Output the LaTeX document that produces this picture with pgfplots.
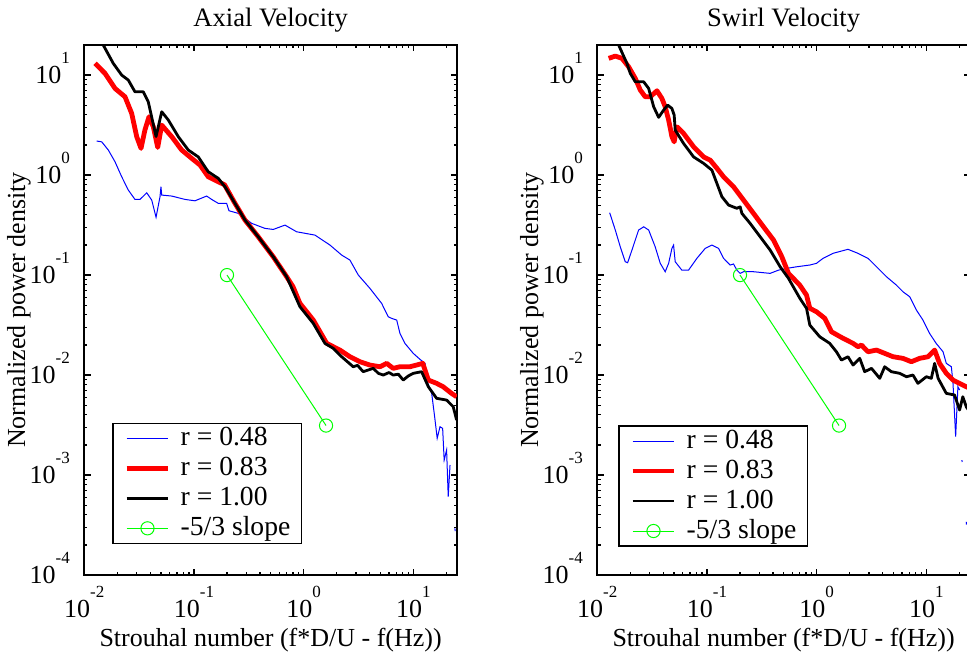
\documentclass[border=0pt]{standalone}
\usepackage{fontspec}
\setmainfont{Liberation Serif}
\usepackage{pgfplots}
\pgfplotsset{compat=1.18}
\newcommand{\tl}[1]{10\smash{\raisebox{10pt}{\fontsize{8.5}{9}\selectfont #1}}}
\tikzset{
 sblue/.style={color=blue, line width=0.5pt},
 sred/.style={color=red, line width=2.4pt, line join=round},
 sblack/.style={color=black, line width=1.4pt, line join=round},
 sgreen/.style={color=green, line width=0.5pt, mark=o, mark size=3.3pt, mark options={line width=0.5pt, solid}},
}
\pgfplotsset{
 every axis/.append style={
  xmode=log, ymode=log, scale only axis, width=186.35pt, height=265pt,
  xmin=0.01, xmax=25, ymin=1e-4, ymax=20,
  xtick={0.01,0.1,1,10}, xticklabels={\tl{-2},\tl{-1},\tl{0},\tl{1}},
  ytick={1e-4,1e-3,1e-2,1e-1,1,10}, yticklabels={\tl{-4},\tl{-3},\tl{-2},\tl{-1},\tl{0},\tl{1}},
  minor xtick={0.02,0.03,0.04,0.05,0.06,0.07,0.08,0.09,0.2,0.3,0.4,0.5,0.6,0.7,0.8,0.9,2,3,4,5,6,7,8,9,20},
  minor ytick={2e-4,3e-4,4e-4,5e-4,6e-4,7e-4,8e-4,9e-4,2e-3,3e-3,4e-3,5e-3,6e-3,7e-3,8e-3,9e-3,0.02,0.03,0.04,0.05,0.06,0.07,0.08,0.09,0.2,0.3,0.4,0.5,0.6,0.7,0.8,0.9,2,3,4,5,6,7,8,9},
  tick align=inside, major tick length=3.2pt, minor tick length=1.6pt,
  tick style={black, line width=0.6pt},
  axis line style={line width=0.9pt},
  tick label style={font=\fontsize{13}{15}\selectfont},
  xticklabel style={anchor=north, inner sep=0pt, yshift=-12.5pt},
  yticklabel style={anchor=east, inner sep=0pt, xshift=-7pt},
  label style={font=\fontsize{13}{15}\selectfont},
  xlabel={Strouhal number (f*D/U - f(Hz))},
  xlabel style={at={(axis description cs:0.5,0)}, anchor=base, yshift=-35.5pt},
  ylabel={Normalized power density},
  ylabel style={at={(axis description cs:-0.159,0.5)}, anchor=base},
  every axis title shift=0pt,
  title style={font=\fontsize{13.3}{15}\selectfont, at={(axis description cs:0.5,1)}, anchor=base, yshift=9.2pt},
  legend cell align=left,
  legend style={anchor=south west, draw=black, line width=0.8pt, fill=white,
    inner xsep=5.5pt, inner ysep=0pt, outer sep=0pt, row sep=0pt, font=\fontsize{13.8}{15}\selectfont,
    nodes={inner xsep=0pt, inner ysep=2pt, text height=9pt, text depth=2pt},
    /tikz/every odd column/.append style={column sep=5pt}},
  legend image code/.code={\draw[mark repeat=2,mark phase=2,#1] plot coordinates {(0pt,0pt) (10.4pt,0pt) (20.8pt,0pt)};},
  unbounded coords=jump,
 },
}
\begin{document}
\begin{tikzpicture}
% ---------------- Left panel ----------------
\begin{axis}[at={(42.15pt,39.5pt)}, anchor=south west, title={Axial Velocity},
  legend style={at={(0.0778,0.0598)}}]
\addplot[sblue] coordinates {(0.01297,2.19) (0.01442,2.15) (0.01656,1.78) (0.01905,1.36) (0.02193,0.962) (0.0252,0.708) (0.02897,0.571) (0.0322,0.571) (0.0371,0.665) (0.0412,0.562) (0.0451,0.378) (0.0490,0.607) (0.0500,0.764) (0.0508,0.631) (0.0627,0.617) (0.0828,0.571) (0.1021,0.553) (0.1305,0.617) (0.1449,0.571) (0.1667,0.521) (0.1986,0.521) (0.2084,0.440) (0.2535,0.414) (0.3357,0.329) (0.4436,0.293) (0.528,0.286) (0.676,0.316) (0.863,0.271) (1.268,0.251) (1.738,0.1995) (2.22,0.1585) (2.64,0.1413) (3.15,0.100) (4.02,0.0736) (5.14,0.0521) (5.90,0.0383) (6.34,0.0369) (7.05,0.0355) (7.55,0.0261) (8.39,0.0207) (9.98,0.01648) (11.5,0.01435) (12.8,0.01309) (13.2,0.00891) (14.7,0.00656) (15.7,0.00369) (16.5,0.00233) (17.5,0.00304) (18.5,0.00293) (19.1,0.00141) (20.1,0.00178) (20.8,0.000607) (21.6,0.00126) (22,nan) (23.9,0.000293) (24.1,0.000275)};
\addlegendentry{r = 0.48}
\addplot[sred] coordinates {(0.01254,13.1) (0.01545,10.4) (0.01905,7.36) (0.0235,6.07) (0.02704,4.14) (0.03006,2.42) (0.0329,1.85) (0.0357,2.82) (0.0389,3.83) (0.0426,3.04) (0.0467,1.89) (0.0508,3.16) (0.0627,2.42) (0.0773,1.78) (0.0953,1.47) (0.1135,1.26) (0.1349,0.962) (0.1667,0.857) (0.19,0.80) (0.2366,0.521) (0.2917,0.355) (0.3855,0.2416) (0.528,0.1525) (0.700,0.0962) (0.80,0.0764) (0.925,0.0521) (1.223,0.0355) (1.622,0.02075) (2.14,0.01778) (2.64,0.01525) (3.26,0.01359) (4.02,0.01259) (4.96,0.01211) (5.71,0.01309) (6.56,0.01167) (7.55,0.01211) (9.31,0.01211) (10.7,0.01259) (12.2,0.01309) (13.7,0.00891) (16.3,0.00826) (18.7,0.00764) (22.3,0.00656) (24.8,0.00607)};
\addlegendentry{r = 0.83}
\addplot[sblack] coordinates {(0.0128,24.5) (0.0149,19.95) (0.01837,13.1) (0.02193,10.0) (0.0252,8.91) (0.02897,6.81) (0.0345,6.81) (0.0383,5.41) (0.0451,2.43) (0.0508,4.30) (0.0584,3.55) (0.0720,2.42) (0.0888,1.78) (0.1094,1.52) (0.1349,1.08) (0.1667,0.927) (0.1918,0.764) (0.2366,0.521) (0.2917,0.355) (0.3855,0.2416) (0.528,0.1525) (0.700,0.0962) (0.925,0.0482) (1.223,0.0329) (1.563,0.02075) (1.862,0.01849) (2.22,0.01525) (2.83,0.01211) (3.1,0.0125) (3.49,0.0108) (4.31,0.01167) (4.8,0.0104) (5.32,0.0100) (6.0,0.0106) (6.56,0.0100) (7.3,0.0102) (8.09,0.00891) (9.0,0.0098) (9.98,0.0104) (11.9,0.0108) (13.7,0.00764) (16.3,0.00585) (20.1,0.00562) (23.1,0.00482) (24.8,0.00355)};
\addlegendentry{r = 1.00}
\addplot[sgreen] coordinates {(0.2,0.1) (1.6,0.003125)};
\addlegendentry{-5/3 slope}
\end{axis}
% ---------------- Right panel ----------------
\begin{axis}[at={(298.65pt,39.5pt)}, anchor=south west, title={Swirl Velocity},
  legend style={at={(0.059,0.0547)}}]
\addplot[sblue] coordinates {(0.01297,0.42) (0.01459,0.282) (0.01619,0.192) (0.01798,0.136) (0.01891,0.133) (0.0207,0.178) (0.0238,0.282) (0.0265,0.304) (0.0294,0.282) (0.0337,0.192) (0.0375,0.131) (0.0416,0.108) (0.0447,0.131) (0.0479,0.185) (0.0496,0.1995) (0.0513,0.136) (0.059,0.112) (0.0679,0.112) (0.0809,0.147) (0.0964,0.185) (0.1109,0.1995) (0.1276,0.185) (0.1416,0.147) (0.1627,0.126) (0.1746,0.129) (0.1873,0.112) (0.2006,0.104) (0.2153,0.108) (0.2655,0.108) (0.3766,0.104) (0.4487,0.112) (0.5346,0.1167) (0.659,0.1211) (0.866,0.126) (0.996,0.131) (1.143,0.147) (1.41,0.165) (1.93,0.181) (2.38,0.165) (2.94,0.147) (3.51,0.1211) (4.33,0.0962) (5.33,0.0794) (6.12,0.0681) (7.05,0.0607) (8.11,0.0447) (9.31,0.0355) (10.7,0.0261) (12.3,0.0207) (14.2,0.0171) (15.2,0.01309) (16.9,0.01211) (17.5,0.00826) (18.5,0.00242) (19.4,0.00764) (20.1,0.00708) (20.6,nan) (21.1,0.00141) (21.2,0.00135) (22,nan) (23.1,0.00034) (23.2,0.00032)};
\addlegendentry{r = 0.48}
\addplot[sred] coordinates {(0.0127,14.7) (0.01459,15.5) (0.01679,14.7) (0.01931,12.1) (0.02219,9.27) (0.02466,7.08) (0.02735,6.07) (0.0304,6.07) (0.035,6.97) (0.0388,5.85) (0.0416,4.82) (0.0447,3.55) (0.0479,2.42) (0.0502,2.15) (0.0532,3.04) (0.0612,2.61) (0.0755,1.92) (0.0931,1.52) (0.107,1.41) (0.1231,1.17) (0.1416,0.962) (0.1746,0.764) (0.2153,0.562) (0.2655,0.414) (0.3273,0.304) (0.4045,0.2239) (0.481,0.1525) (0.5534,0.104) (0.701,0.0794) (0.808,0.0631) (0.866,0.0465) (0.996,0.043) (1.186,0.0369) (1.365,0.0271) (1.74,0.0233) (2.147,0.02075) (2.38,0.0192) (2.56,0.01995) (2.94,0.0171) (3.51,0.01778) (4.17,0.01648) (4.97,0.01525) (6.12,0.01469) (7.30,0.01359) (8.69,0.01469) (10.35,0.01525) (11.9,0.01778) (13.2,0.01309) (15.2,0.0104) (17.5,0.00891) (21.5,0.00794) (23.1,0.00764) (24.8,0.0074)};
\addlegendentry{r = 0.83}
\addplot[sblack] coordinates {(0.0136,28) (0.01566,19.95) (0.01862,13.1) (0.02,10.4) (0.02219,8.57) (0.02649,8.57) (0.02938,7.36) (0.03266,4.82) (0.03624,3.78) (0.04027,4.47) (0.04378,5.01) (0.04786,4.64) (0.05023,3.98) (0.0513,2.82) (0.0612,2.07) (0.0755,1.52) (0.0931,1.31) (0.1109,1.12) (0.1231,0.826) (0.1368,0.607) (0.1574,0.501) (0.1873,0.465) (0.2006,0.482) (0.208,0.414) (0.2473,0.329) (0.3052,0.2416) (0.3766,0.1778) (0.4645,0.1211) (0.5534,0.0927) (0.703,0.0585) (0.808,0.0465) (0.866,0.0316) (1.067,0.02415) (1.315,0.02075) (1.514,0.0171) (1.682,0.01413) (1.932,0.01525) (2.147,0.01259) (2.47,0.01469) (2.74,0.0108) (3.16,0.01167) (3.76,0.00927) (4.17,0.01211) (4.80,0.0108) (5.71,0.0104) (6.58,0.00962) (7.55,0.0100) (8.38,0.00826) (10.0,0.00962) (11.1,0.00927) (11.9,0.01309) (12.8,0.00927) (15.2,0.00656) (18.1,0.00631) (20.1,0.00447) (21.5,0.00607) (23.1,0.00482) (24.8,0.0043)};
\addlegendentry{r = 1.00}
\addplot[sgreen] coordinates {(0.2,0.1) (1.6,0.003125)};
\addlegendentry{-5/3 slope}
\end{axis}
\pgfresetboundingbox
\useasboundingbox (0,0) rectangle (483.5pt,327pt);
\end{tikzpicture}
\end{document}
